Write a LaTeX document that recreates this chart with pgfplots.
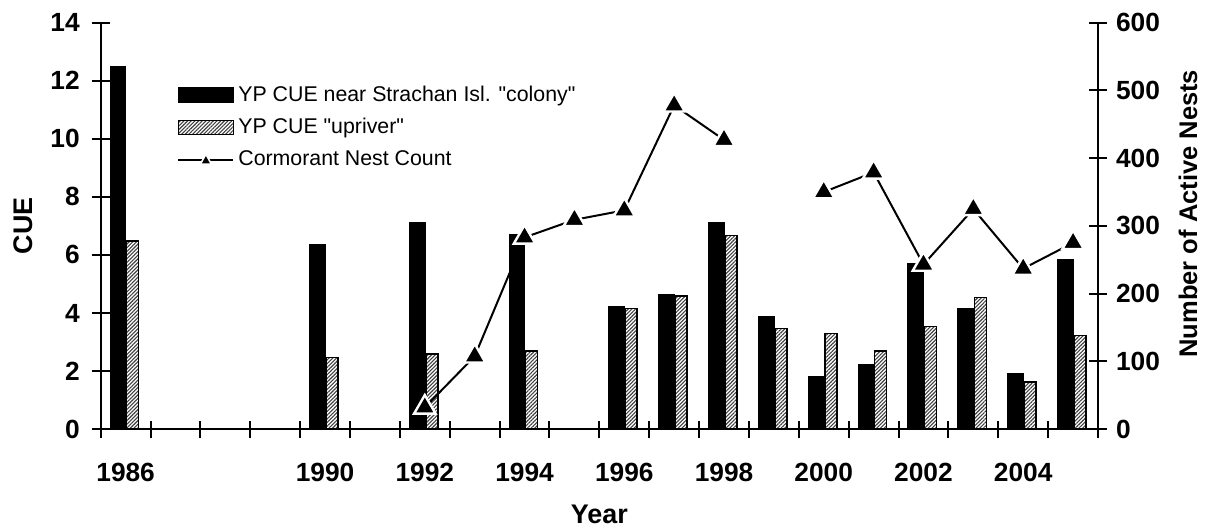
\documentclass[border=0pt]{standalone}
\usepackage{fontspec}
\setmainfont{Liberation Sans}
\usepackage{pgfplots}
\pgfplotsset{compat=1.18}
\usetikzlibrary{patterns.meta}
\pgfplotsset{
  barlegend/.style={legend image code/.code={\draw[##1] (0bp,-3.5bp) rectangle (27.5bp,3.5bp);}},
  common/.style={
    scale only axis, width=498.65bp, height=203.2bp,
    at={(0,0)}, anchor=south west,
    xmin=-0.5, xmax=19.5,
    tick align=center,
    major tick length=9bp, minor tick length=8.5bp,
    axis line style={line width=1bp},
    every tick/.style={line width=1bp},
    /pgf/number format/assume math mode=true,
    tick label style={font=\bfseries\fontsize{13.2}{15}\selectfont},
    label style={font=\bfseries\fontsize{12.8}{14}\selectfont},
  }
}

\begin{document}
\begin{tikzpicture}
\begin{axis}[common,
  axis x line*=bottom, axis y line*=left,
  ymin=0, ymax=14, ytick={0,2,...,14},
  xtick={0,4,6,8,10,12,14,16,18},
  xticklabels={1986,1990,1992,1994,1996,1998,2000,2002,2004},
  xticklabel style={yshift=-9bp},
  yticklabel style={xshift=-2.5bp},
  major x tick style={draw=none},
  minor xtick={-0.5,0.5,...,19.5},
  ylabel={CUE}, xlabel={Year},
  ylabel style={at={(axis description cs:-0.078,0.5)}, anchor=center, font=\bfseries\fontsize{13.5}{15}\selectfont},
  xlabel style={at={(axis description cs:0.5,-0.209)}, anchor=center, font=\bfseries\fontsize{13.5}{15}\selectfont},
  legend style={at={(axis description cs:0.0765,0.855)}, anchor=north west, draw=none, fill=none, inner sep=0pt,
    font=\fontsize{10.7}{12}\selectfont, row sep=3bp},
  legend cell align=left,
]
\addplot[ybar, bar width=7.6bp, bar shift=-3.8bp, fill=black, draw=black, line width=0.8bp, barlegend]
  coordinates {(0,12.48) (4,6.34) (6,7.09) (8,6.7) (10,4.21) (11,4.63) (12,7.12) (13,3.87) (14,1.81) (15,2.23) (16,5.71) (17,4.16) (18,1.92) (19,5.82)};
\addlegendentry{YP CUE near Strachan Isl. \textquotedbl colony\textquotedbl}
\addplot[ybar, bar width=6bp, bar shift=3.5bp, draw=black, line width=0.8bp,
  preaction={fill=white},
  pattern={Lines[angle=45,distance=1.3bp,line width=0.55bp]}, pattern color=black!75, barlegend]
  coordinates {(0,6.49) (4,2.46) (6,2.58) (8,2.70) (10,4.16) (11,4.59) (12,6.67) (13,3.47) (14,3.30) (15,2.69) (16,3.53) (17,4.54) (18,1.63) (19,3.22)};
\addlegendentry{YP CUE \textquotedbl upriver\textquotedbl}
\addlegendimage{legend image code/.code={\draw[black, line width=1bp] (0bp,0bp) -- (27.5bp,0bp);
   \filldraw[black, draw=white, line width=0.8bp] (11bp,-2.2bp) -- (16.5bp,-2.2bp) -- (13.75bp,2.8bp) -- cycle;}}
\addlegendentry{Cormorant Nest Count}
\end{axis}
\begin{axis}[common,
  hide x axis, axis y line*=right,
  ymin=0, ymax=600, ytick={0,100,...,600},
  yticklabel style={xshift=1bp},
  ylabel={Number of Active Nests},
  ylabel style={at={(axis description cs:1.0902,0.53)}, anchor=center},
  unbounded coords=jump,
]
\addplot[black, line width=1bp, mark=triangle*, mark size=6.2bp,
  mark options={fill=black, draw=white, line width=1.2bp, solid}]
  coordinates {(6,32) (7,107.5) (8,283) (9,309) (10,323) (11,478) (12,427) (13,nan) (14,350) (15,379) (16,243) (17,325) (18,237) (19,275)};
\end{axis}
\pgfresetboundingbox
\path[use as bounding box] (-50.35bp,-50bp) rectangle (555.15bp,214.55bp);
\end{tikzpicture}
\end{document}
